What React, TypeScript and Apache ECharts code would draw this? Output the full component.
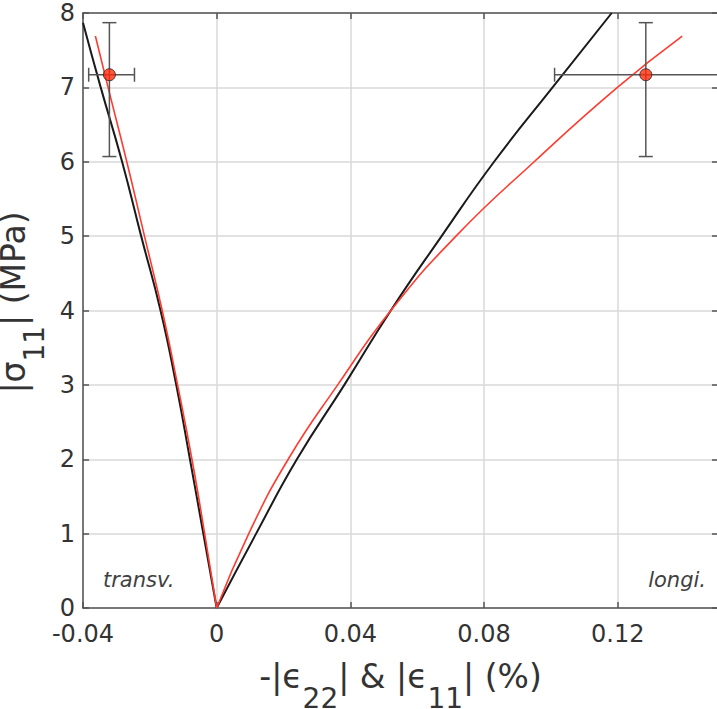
import React, { useEffect, useRef } from "react";
import * as echarts from "echarts";

// transverse curves (x = -|eps22| in %, y = |sigma11| in MPa)
const blackTransverse: number[][] = [
  [0, 0], [-0.004, 1], [-0.008, 2], [-0.0121, 3], [-0.0168, 4], [-0.0226, 5], [-0.0283, 6], [-0.0347, 7], [-0.04, 7.87],
];
const redTransverse: number[][] = [
  [0, 0], [-0.0036, 1], [-0.0074, 2], [-0.0117, 3], [-0.0163, 4], [-0.0216, 5], [-0.0269, 6], [-0.0325, 7], [-0.0363, 7.69],
];
// longitudinal curves (x = |eps11| in %)
const blackLongitudinal: number[][] = [
  [0, 0], [0.0118, 1], [0.024, 2], [0.0382, 3], [0.0521, 4], [0.0673, 5], [0.083, 6], [0.1005, 7], [0.1182, 8],
];
const redLongitudinal: number[][] = [
  [0, 0], [0.0096, 1], [0.0214, 2], [0.0362, 3], [0.0521, 4], [0.0716, 5], [0.095, 6], [0.1199, 7], [0.1393, 7.69],
];
// experimental points: [x, y, xLow, xHigh, yLow, yHigh]
const experimentPoints: number[][] = [
  [-0.0321, 7.17, -0.0383, -0.0246, 6.07, 7.87],
  [0.1284, 7.17, 0.1011, 0.158, 6.07, 7.87],
];
const xTicks = { min: -0.04, max: 0.15, interval: 0.04 };
const yTicks = { min: 0, max: 8, interval: 1 };
const annotations = ["transv.", "longi."];

const FONT = "DejaVu Sans";
const AXIS_COLOR = "#555555";
const TEXT_COLOR = "#333333";

export default function App() {
  const ref = useRef<HTMLDivElement>(null);
  useEffect(() => {
    if (!ref.current) return;
    const chart = echarts.init(ref.current, undefined, { renderer: "svg" });
    const axisLine = { show: true, onZero: false, lineStyle: { color: AXIS_COLOR, width: 1.5 } };
    const axisTick = { show: true, inside: true, length: 6, lineStyle: { color: AXIS_COLOR, width: 1.5 } };
    const splitLine = { show: true, lineStyle: { color: "#d9d9d9", width: 1.5 } };
    const fmt = (v: number) => String(Number(v.toFixed(2)));
    const nameRich = {
      m: { fontFamily: FONT, fontSize: 33, color: TEXT_COLOR, lineHeight: 26, verticalAlign: "top" },
      s: { fontFamily: FONT, fontSize: 28, color: TEXT_COLOR, lineHeight: 52, verticalAlign: "bottom" },
    };
    const lineCommon = { type: "line", symbol: "none", smooth: 0.5 };
    chart.setOption({
      animation: false,
      grid: { left: 83, top: 13, width: 635, height: 595, containLabel: false, outerBoundsMode: "none" },
      xAxis: [
        {
          type: "value", ...xTicks, position: "bottom",
          axisLine, axisTick, splitLine,
          axisLabel: { formatter: fmt, fontFamily: FONT, fontSize: 24, color: TEXT_COLOR, margin: 14, showMaxLabel: false },
          name: "{m|-|ϵ}{s|22}{m|| & |ϵ}{s|11}{m|| (%)}",
          nameLocation: "middle", nameGap: 52,
          nameTextStyle: { rich: nameRich },
        },
        {
          type: "value", ...xTicks, position: "top",
          axisLine, axisTick, splitLine: { show: false }, axisLabel: { show: false },
        },
      ],
      yAxis: [
        {
          type: "value", ...yTicks, position: "left",
          axisLine, axisTick, splitLine,
          axisLabel: { fontFamily: FONT, fontSize: 24, color: TEXT_COLOR, margin: 8 },
          name: "{m||σ}{s|11}{m|| (MPa)}",
          nameLocation: "middle", nameGap: 27,
          nameTextStyle: { rich: nameRich, padding: [0, 0, 0, 16] },
        },
        {
          type: "value", ...yTicks, position: "right",
          axisLine, axisTick, splitLine: { show: false }, axisLabel: { show: false },
        },
      ],
      series: [
        { ...lineCommon, data: blackTransverse, lineStyle: { color: "#1a1a1a", width: 2 }, z: 3 },
        { ...lineCommon, data: redTransverse, lineStyle: { color: "#ff3b2f", width: 1.6 }, z: 4 },
        { ...lineCommon, data: blackLongitudinal, lineStyle: { color: "#1a1a1a", width: 2 }, z: 3 },
        { ...lineCommon, data: redLongitudinal, lineStyle: { color: "#ff3b2f", width: 1.6 }, z: 4 },
        {
          type: "custom",
          clip: true,
          z: 5,
          data: experimentPoints,
          renderItem: (params: any, api: any) => {
            const x = api.value(0), y = api.value(1);
            const l = api.coord([api.value(2), y]);
            const r = api.coord([api.value(3), y]);
            const t = api.coord([x, api.value(5)]);
            const b = api.coord([x, api.value(4)]);
            const cap = 7;
            const style = { stroke: "#555555", lineWidth: 1.5, fill: null };
            const ln = (x1: number, y1: number, x2: number, y2: number) => ({
              type: "line", shape: { x1, y1, x2, y2 }, style,
            });
            return {
              type: "group",
              children: [
                ln(l[0], l[1], r[0], r[1]),
                ln(l[0], l[1] - cap, l[0], l[1] + cap),
                ln(r[0], r[1] - cap, r[0], r[1] + cap),
                ln(t[0], t[1], b[0], b[1]),
                ln(t[0] - cap, t[1], t[0] + cap, t[1]),
                ln(b[0] - cap, b[1], b[0] + cap, b[1]),
              ],
            };
          },
        },
        {
          type: "scatter",
          data: experimentPoints.map((p) => [p[0], p[1]]),
          symbol: "circle",
          symbolSize: 12,
          itemStyle: { color: "#ff2a0a", borderColor: "#222222", borderWidth: 1 },
          z: 6,
        },
      ],
      graphic: [
        {
          type: "text", left: 103, top: 569,
          style: { text: annotations[0], fontFamily: FONT, fontStyle: "italic", fontSize: 21, fill: "#404040" },
        },
        {
          type: "text", right: 11, top: 569,
          style: { text: annotations[1], fontFamily: FONT, fontStyle: "italic", fontSize: 21, fill: "#404040" },
        },
      ],
    });
    return () => chart.dispose();
  }, []);
  return <div ref={ref} style={{ position: "absolute", left: 0, top: 0, width: 717, height: 709 }} />;
}
